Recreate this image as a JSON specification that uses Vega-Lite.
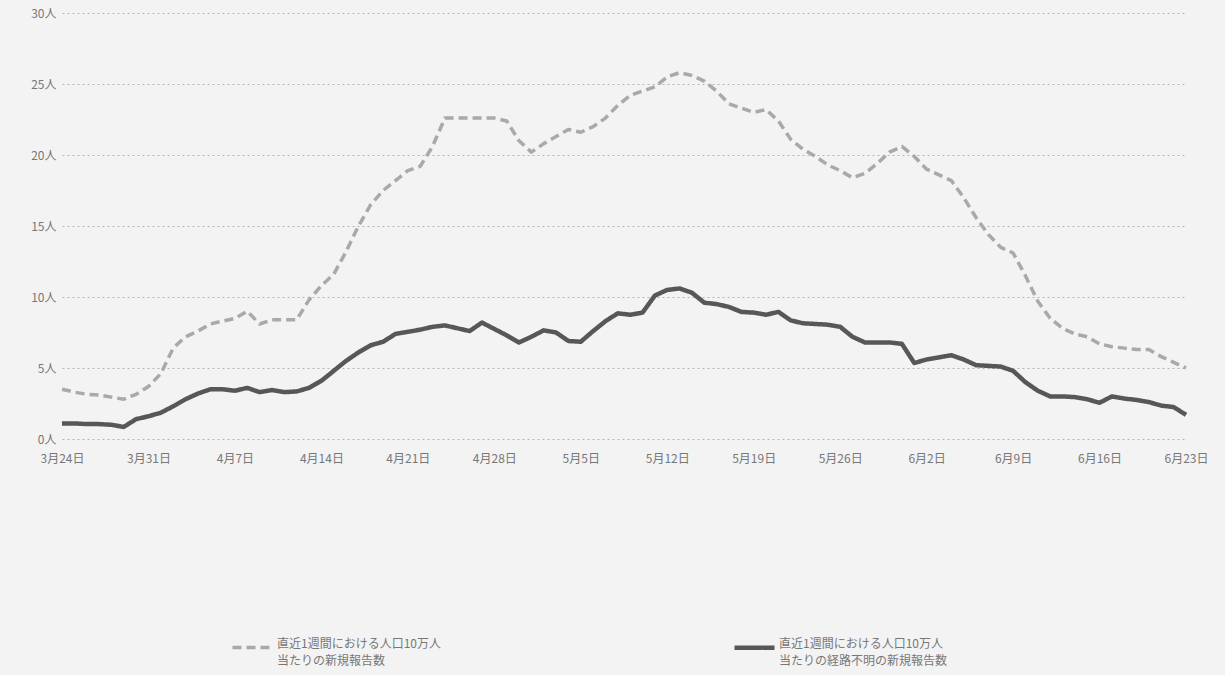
{
  "$schema": "https://vega.github.io/schema/vega-lite/v6.json",
  "autosize": "none",
  "width": 1124,
  "height": 426,
  "padding": {"left": 62, "top": 13, "right": 39, "bottom": 236},
  "background": "#f3f3f3",
  "config": {
    "font": "Noto Sans CJK JP",
    "view": {"stroke": null},
    "axis": {"labelFont": "Noto Sans CJK JP", "labelColor": "#777777", "labelFontSize": 12},
    "style": {"guide-label": {"lineHeight": 17}}
  },
  "data": {"values": [
    {"date":"2021-03-24","series":"a","value":3.5},{"date":"2021-03-25","series":"a","value":3.3},{"date":"2021-03-26","series":"a","value":3.15},{"date":"2021-03-27","series":"a","value":3.1},{"date":"2021-03-28","series":"a","value":2.95},{"date":"2021-03-29","series":"a","value":2.8},{"date":"2021-03-30","series":"a","value":3.15},{"date":"2021-03-31","series":"a","value":3.7},
    {"date":"2021-04-01","series":"a","value":4.6},{"date":"2021-04-02","series":"a","value":6.4},{"date":"2021-04-03","series":"a","value":7.2},{"date":"2021-04-04","series":"a","value":7.6},{"date":"2021-04-05","series":"a","value":8.1},{"date":"2021-04-06","series":"a","value":8.3},{"date":"2021-04-07","series":"a","value":8.5},{"date":"2021-04-08","series":"a","value":9.0},{"date":"2021-04-09","series":"a","value":8.1},{"date":"2021-04-10","series":"a","value":8.4},{"date":"2021-04-11","series":"a","value":8.4},{"date":"2021-04-12","series":"a","value":8.4},{"date":"2021-04-13","series":"a","value":9.8},{"date":"2021-04-14","series":"a","value":10.8},{"date":"2021-04-15","series":"a","value":11.6},{"date":"2021-04-16","series":"a","value":13.2},{"date":"2021-04-17","series":"a","value":15.0},{"date":"2021-04-18","series":"a","value":16.5},{"date":"2021-04-19","series":"a","value":17.5},{"date":"2021-04-20","series":"a","value":18.2},{"date":"2021-04-21","series":"a","value":18.9},{"date":"2021-04-22","series":"a","value":19.2},{"date":"2021-04-23","series":"a","value":20.6},{"date":"2021-04-24","series":"a","value":22.6},{"date":"2021-04-25","series":"a","value":22.6},{"date":"2021-04-26","series":"a","value":22.6},{"date":"2021-04-27","series":"a","value":22.6},{"date":"2021-04-28","series":"a","value":22.6},{"date":"2021-04-29","series":"a","value":22.4},{"date":"2021-04-30","series":"a","value":21.0},
    {"date":"2021-05-01","series":"a","value":20.2},{"date":"2021-05-02","series":"a","value":20.8},{"date":"2021-05-03","series":"a","value":21.3},{"date":"2021-05-04","series":"a","value":21.8},{"date":"2021-05-05","series":"a","value":21.6},{"date":"2021-05-06","series":"a","value":22.0},{"date":"2021-05-07","series":"a","value":22.6},{"date":"2021-05-08","series":"a","value":23.5},{"date":"2021-05-09","series":"a","value":24.2},{"date":"2021-05-10","series":"a","value":24.5},{"date":"2021-05-11","series":"a","value":24.8},{"date":"2021-05-12","series":"a","value":25.5},{"date":"2021-05-13","series":"a","value":25.8},{"date":"2021-05-14","series":"a","value":25.6},{"date":"2021-05-15","series":"a","value":25.2},{"date":"2021-05-16","series":"a","value":24.5},{"date":"2021-05-17","series":"a","value":23.6},{"date":"2021-05-18","series":"a","value":23.3},{"date":"2021-05-19","series":"a","value":23.0},{"date":"2021-05-20","series":"a","value":23.2},{"date":"2021-05-21","series":"a","value":22.4},{"date":"2021-05-22","series":"a","value":21.1},{"date":"2021-05-23","series":"a","value":20.4},{"date":"2021-05-24","series":"a","value":19.9},{"date":"2021-05-25","series":"a","value":19.3},{"date":"2021-05-26","series":"a","value":18.9},{"date":"2021-05-27","series":"a","value":18.4},{"date":"2021-05-28","series":"a","value":18.7},{"date":"2021-05-29","series":"a","value":19.4},{"date":"2021-05-30","series":"a","value":20.2},{"date":"2021-05-31","series":"a","value":20.6},
    {"date":"2021-06-01","series":"a","value":19.9},{"date":"2021-06-02","series":"a","value":19.0},{"date":"2021-06-03","series":"a","value":18.6},{"date":"2021-06-04","series":"a","value":18.2},{"date":"2021-06-05","series":"a","value":17.0},{"date":"2021-06-06","series":"a","value":15.6},{"date":"2021-06-07","series":"a","value":14.4},{"date":"2021-06-08","series":"a","value":13.5},{"date":"2021-06-09","series":"a","value":13.1},{"date":"2021-06-10","series":"a","value":11.5},{"date":"2021-06-11","series":"a","value":9.7},{"date":"2021-06-12","series":"a","value":8.5},{"date":"2021-06-13","series":"a","value":7.8},{"date":"2021-06-14","series":"a","value":7.4},{"date":"2021-06-15","series":"a","value":7.2},{"date":"2021-06-16","series":"a","value":6.7},{"date":"2021-06-17","series":"a","value":6.5},{"date":"2021-06-18","series":"a","value":6.4},{"date":"2021-06-19","series":"a","value":6.3},{"date":"2021-06-20","series":"a","value":6.3},{"date":"2021-06-21","series":"a","value":5.8},{"date":"2021-06-22","series":"a","value":5.4},{"date":"2021-06-23","series":"a","value":5.0},
    {"date":"2021-03-24","series":"b","value":1.1},{"date":"2021-03-25","series":"b","value":1.1},{"date":"2021-03-26","series":"b","value":1.05},{"date":"2021-03-27","series":"b","value":1.05},{"date":"2021-03-28","series":"b","value":1.0},{"date":"2021-03-29","series":"b","value":0.85},{"date":"2021-03-30","series":"b","value":1.4},{"date":"2021-03-31","series":"b","value":1.6},
    {"date":"2021-04-01","series":"b","value":1.85},{"date":"2021-04-02","series":"b","value":2.3},{"date":"2021-04-03","series":"b","value":2.8},{"date":"2021-04-04","series":"b","value":3.2},{"date":"2021-04-05","series":"b","value":3.5},{"date":"2021-04-06","series":"b","value":3.5},{"date":"2021-04-07","series":"b","value":3.4},{"date":"2021-04-08","series":"b","value":3.6},{"date":"2021-04-09","series":"b","value":3.3},{"date":"2021-04-10","series":"b","value":3.45},{"date":"2021-04-11","series":"b","value":3.3},{"date":"2021-04-12","series":"b","value":3.35},{"date":"2021-04-13","series":"b","value":3.6},{"date":"2021-04-14","series":"b","value":4.1},{"date":"2021-04-15","series":"b","value":4.8},{"date":"2021-04-16","series":"b","value":5.5},{"date":"2021-04-17","series":"b","value":6.1},{"date":"2021-04-18","series":"b","value":6.6},{"date":"2021-04-19","series":"b","value":6.85},{"date":"2021-04-20","series":"b","value":7.4},{"date":"2021-04-21","series":"b","value":7.55},{"date":"2021-04-22","series":"b","value":7.7},{"date":"2021-04-23","series":"b","value":7.9},{"date":"2021-04-24","series":"b","value":8.0},{"date":"2021-04-25","series":"b","value":7.8},{"date":"2021-04-26","series":"b","value":7.6},{"date":"2021-04-27","series":"b","value":8.2},{"date":"2021-04-28","series":"b","value":7.75},{"date":"2021-04-29","series":"b","value":7.3},{"date":"2021-04-30","series":"b","value":6.8},
    {"date":"2021-05-01","series":"b","value":7.2},{"date":"2021-05-02","series":"b","value":7.65},{"date":"2021-05-03","series":"b","value":7.5},{"date":"2021-05-04","series":"b","value":6.9},{"date":"2021-05-05","series":"b","value":6.85},{"date":"2021-05-06","series":"b","value":7.6},{"date":"2021-05-07","series":"b","value":8.3},{"date":"2021-05-08","series":"b","value":8.85},{"date":"2021-05-09","series":"b","value":8.75},{"date":"2021-05-10","series":"b","value":8.9},{"date":"2021-05-11","series":"b","value":10.1},{"date":"2021-05-12","series":"b","value":10.5},{"date":"2021-05-13","series":"b","value":10.6},{"date":"2021-05-14","series":"b","value":10.3},{"date":"2021-05-15","series":"b","value":9.6},{"date":"2021-05-16","series":"b","value":9.5},{"date":"2021-05-17","series":"b","value":9.3},{"date":"2021-05-18","series":"b","value":8.95},{"date":"2021-05-19","series":"b","value":8.9},{"date":"2021-05-20","series":"b","value":8.75},{"date":"2021-05-21","series":"b","value":8.95},{"date":"2021-05-22","series":"b","value":8.35},{"date":"2021-05-23","series":"b","value":8.15},{"date":"2021-05-24","series":"b","value":8.1},{"date":"2021-05-25","series":"b","value":8.05},{"date":"2021-05-26","series":"b","value":7.9},{"date":"2021-05-27","series":"b","value":7.2},{"date":"2021-05-28","series":"b","value":6.8},{"date":"2021-05-29","series":"b","value":6.8},{"date":"2021-05-30","series":"b","value":6.8},{"date":"2021-05-31","series":"b","value":6.7},
    {"date":"2021-06-01","series":"b","value":5.35},{"date":"2021-06-02","series":"b","value":5.6},{"date":"2021-06-03","series":"b","value":5.75},{"date":"2021-06-04","series":"b","value":5.9},{"date":"2021-06-05","series":"b","value":5.6},{"date":"2021-06-06","series":"b","value":5.2},{"date":"2021-06-07","series":"b","value":5.15},{"date":"2021-06-08","series":"b","value":5.1},{"date":"2021-06-09","series":"b","value":4.8},{"date":"2021-06-10","series":"b","value":4.0},{"date":"2021-06-11","series":"b","value":3.4},{"date":"2021-06-12","series":"b","value":3.0},{"date":"2021-06-13","series":"b","value":3.0},{"date":"2021-06-14","series":"b","value":2.95},{"date":"2021-06-15","series":"b","value":2.8},{"date":"2021-06-16","series":"b","value":2.55},{"date":"2021-06-17","series":"b","value":3.0},{"date":"2021-06-18","series":"b","value":2.85},{"date":"2021-06-19","series":"b","value":2.75},{"date":"2021-06-20","series":"b","value":2.6},{"date":"2021-06-21","series":"b","value":2.35},{"date":"2021-06-22","series":"b","value":2.25},{"date":"2021-06-23","series":"b","value":1.7}
  ]},
  "mark": {"type": "line", "strokeCap": "butt", "strokeJoin": "round"},
  "encoding": {
    "x": {
      "field": "date", "type": "temporal",
      "scale": {"type": "utc", "domain": [{"year": 2021, "month": 3, "date": 24, "utc": true}, {"year": 2021, "month": 6, "date": 23, "utc": true}]},
      "axis": {
        "title": null, "domain": false, "ticks": false, "grid": false,
        "labelExpr": "utcFormat(datum.value, '%-m月%-d日')", "labelPadding": 14, "labelFontSize": 12,
        "labelFlush": false, "labelOverlap": false,
        "values": [
          {"year": 2021, "month": 3, "date": 24, "utc": true},
          {"year": 2021, "month": 3, "date": 31, "utc": true},
          {"year": 2021, "month": 4, "date": 7, "utc": true},
          {"year": 2021, "month": 4, "date": 14, "utc": true},
          {"year": 2021, "month": 4, "date": 21, "utc": true},
          {"year": 2021, "month": 4, "date": 28, "utc": true},
          {"year": 2021, "month": 5, "date": 5, "utc": true},
          {"year": 2021, "month": 5, "date": 12, "utc": true},
          {"year": 2021, "month": 5, "date": 19, "utc": true},
          {"year": 2021, "month": 5, "date": 26, "utc": true},
          {"year": 2021, "month": 6, "date": 2, "utc": true},
          {"year": 2021, "month": 6, "date": 9, "utc": true},
          {"year": 2021, "month": 6, "date": 16, "utc": true},
          {"year": 2021, "month": 6, "date": 23, "utc": true}
        ]
      }
    },
    "y": {
      "field": "value", "type": "quantitative",
      "scale": {"domain": [0, 30], "nice": false},
      "axis": {
        "title": null, "domain": false, "ticks": false,
        "values": [0, 5, 10, 15, 20, 25, 30],
        "labelExpr": "datum.value + '人'", "labelPadding": 6,
        "gridColor": "#b5b5b5", "gridDash": [2, 3], "gridWidth": 1
      }
    },
    "color": {
      "field": "series", "type": "nominal",
      "scale": {"domain": ["a", "b"], "range": ["#a9a9a9", "#575757"]},
      "legend": {
        "title": null, "orient": "none", "legendX": 168, "legendY": 612,
        "direction": "horizontal", "columns": 2, "columnPadding": 284,
        "symbolType": "stroke", "symbolSize": 1600, "labelOffset": 2,
        "labelFont": "Noto Sans CJK JP", "labelFontSize": 12, "labelColor": "#777777",
        "labelLimit": 400, "labelBaseline": "alphabetic",
        "labelExpr": "datum.label == 'a' ? ['直近1週間における人口10万人', '当たりの新規報告数'] : ['直近1週間における人口10万人', '当たりの経路不明の新規報告数']"
      }
    },
    "strokeDash": {
      "field": "series", "type": "nominal",
      "scale": {"domain": ["a", "b"], "range": [[9, 5], [1, 0]]}
    },
    "strokeWidth": {
      "field": "series", "type": "nominal",
      "scale": {"domain": ["a", "b"], "range": [3.5, 4.5]}
    }
  }
}
